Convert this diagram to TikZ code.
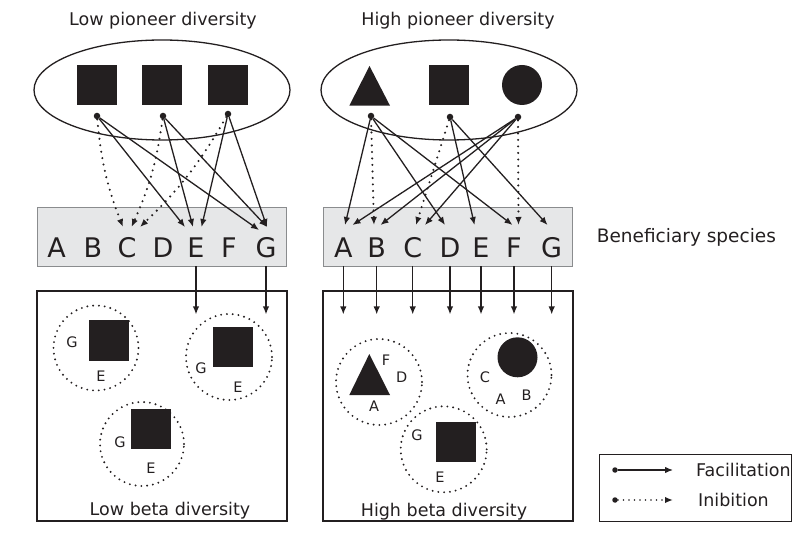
\documentclass[tikz,border=0pt]{standalone}
\usepackage{fontspec}
\setmainfont{DejaVu Sans}
\usetikzlibrary{arrows.meta,shapes.geometric}
\definecolor{ink}{HTML}{231F20}
\definecolor{panel}{HTML}{E6E7E8}
\definecolor{panelline}{HTML}{8A8C8E}
\begin{document}
\begin{tikzpicture}[x=1pt,y=-1pt,
  every node/.style={inner sep=0pt, text=ink},
  tip/.style={-{Latex[length=8pt,width=6.5pt]}},
  fac/.style={draw=ink, line width=1.3pt, tip},
  inh/.style={draw=ink, line width=2.3pt, dash pattern=on 0pt off 6.5pt, line cap=round, tip},
  src/.style={circle, fill=ink, minimum size=6.5pt},
  block/.style={fill=ink, minimum size=40pt},
  heading/.style={font=\fontsize{17.5}{18}\selectfont},
  letter/.style={font=\fontsize{27}{27}\selectfont, anchor=base},
  tag/.style={font=\fontsize{14.5}{15}\selectfont},
  pool/.style={draw=ink, ellipse, line width=1.3pt, minimum width=256pt, minimum height=100pt},
  strip/.style={draw=panelline, fill=panel, line width=0.8pt, minimum width=249pt, minimum height=59pt},
  patch/.style={draw=ink, line width=2.1pt, dash pattern=on 0pt off 5.8pt, line cap=round, circle},
  frame/.style={draw=ink, line width=1.4pt, minimum width=250pt, minimum height=230pt}
]
\useasboundingbox (0,0) rectangle (800,534);

% headings
\node[heading, anchor=base] (tl) at (163,26) {Low pioneer diversity};
\node[heading, anchor=base] (tr) at (458,26) {High pioneer diversity};

% pioneer pools
\node[pool] (pl) at (162,90) {};
\node[pool] (pr) at (449,90) {};
\node[block] (q1) at (97,85) {};
\node[block] (q2) at (162,85) {};
\node[block] (q3) at (228,85) {};
\fill[ink] (349.3,105.7) -- (369.5,66) -- (390,105.7) -- cycle;
\node[block] (q5) at (449,85) {};
\node[circle, fill=ink, minimum size=40pt] (q6) at (522,85) {};

% beneficiary strips
\node[strip] (sl) at (161.5,236.5) {};
\node[strip] (sr) at (448,236.5) {};
\foreach \n/\x in {A/56.7,B/93,C/127,D/163,E/196,F/229,G/266}
  \node[letter] (L\n) at (\x,258) {\n};
\foreach \n/\x in {A/343.3,B/376.7,C/412.7,D/450,E/481,F/514,G/551.7}
  \node[letter] (R\n) at (\x,258) {\n};
\node[font=\fontsize{18.5}{19}\selectfont, anchor=base west] (bs) at (596.7,243) {Beneficiary species};

% arrow end points above the letters
\coordinate (tLC1) at (123,227);
\coordinate (tLC2) at (131.5,227);
\coordinate (tLC3) at (140,227);
\coordinate (tLE1) at (185,227);
\coordinate (tLE2) at (193,227);
\coordinate (tLE3) at (201.5,227);
\coordinate (tLG1) at (259,230);
\coordinate (tLG2) at (267,227);
\coordinate (tRA1) at (345,225);
\coordinate (tRA2) at (352.5,225);
\coordinate (tRB1) at (374,225);
\coordinate (tRB2) at (380.5,225);
\coordinate (tRC1) at (416,225);
\coordinate (tRC2) at (425,225);
\coordinate (tRD) at (445,225);
\coordinate (tRE) at (474.5,225);
\coordinate (tRF1) at (512.5,225);
\coordinate (tRF2) at (518.5,225);
\coordinate (tRG) at (547.5,225);

% source points
\node[src] (s1) at (97,116) {};
\node[src] (s2) at (163,116) {};
\node[src] (s3) at (228,114) {};
\node[src] (r1) at (371,116) {};
\node[src] (r2) at (450,117) {};
\node[src] (r3) at (518,117) {};

% low diversity interactions
\draw[inh] (s1) to[bend right=8] (tLC1);
\draw[inh] (s2) to[bend left=8] (tLC2);
\draw[inh] (s3) to[bend left=8] (tLC3);
\draw[fac] (s1) -- (tLE1);
\draw[fac] (s1) -- (tLG1);
\draw[fac] (s2) -- (tLE2);
\draw[fac] (s2) -- (tLG2);
\draw[fac] (s3) -- (tLE3);
\draw[fac] (s3) -- (tLG2);

% high diversity interactions
\draw[fac] (r1) -- (tRA1);
\draw[inh] (r1) -- (tRB1);
\draw[fac] (r1) -- (tRD);
\draw[fac] (r1) -- (tRF1);
\draw[inh] (r2) -- (tRC1);
\draw[fac] (r2) -- (tRE);
\draw[fac] (r2) -- (tRG);
\draw[fac] (r3) -- (tRA2);
\draw[fac] (r3) -- (tRB2);
\draw[fac] (r3) -- (tRC2);
\draw[inh] (r3) -- (tRF2);

% communities
\node[frame] (fl) at (162,406) {};
\node[frame] (fr) at (448,406) {};
\foreach \n in {E,G}
  \draw[fac] (L\n |- sl.south) -- ++(0,48);
\foreach \n in {A,B,C,D,E,F,G}
  \draw[fac] (R\n |- sr.south) -- ++(0,48);

% low beta diversity patches
\node[patch, minimum size=85pt] (c1) at (96,348) {};
\node[block] (b1) at (109,340.5) {};
\node[tag] at (72,342) {G};
\node[tag] at (101,376) {E};
\node[patch, minimum size=86pt] (c2) at (229,357) {};
\node[block] (b2) at (232.5,346.7) {};
\node[tag] at (201,368) {G};
\node[tag] at (238,387) {E};
\node[patch, minimum size=84pt] (c3) at (142,444) {};
\node[block] (b3) at (150.7,429.3) {};
\node[tag] at (120,442) {G};
\node[tag] at (151,468) {E};
\node[heading, anchor=base] (ll) at (170,515) {Low beta diversity};

% high beta diversity patches
\node[patch, minimum size=86pt] (c4) at (379,382) {};
\fill[ink] (349.3,395) -- (369.3,354) -- (390,395) -- cycle;
\node[tag] at (386,360) {F};
\node[tag] at (401.7,377) {D};
\node[tag] at (374,406) {A};
\node[patch, minimum size=84pt] (c5) at (509.5,375) {};
\node[circle, fill=ink, minimum size=40pt] (b5) at (517.5,357.3) {};
\node[tag] at (485,377) {C};
\node[tag] at (500.7,399) {A};
\node[tag] at (526.7,395) {B};
\node[patch, minimum size=86pt] (c6) at (443.7,449.3) {};
\node[block] (b6) at (455.7,442) {};
\node[tag] at (417,435) {G};
\node[tag] at (440,477) {E};
\node[heading, anchor=base] (lr) at (444,516) {High beta diversity};

% legend
\node[draw=ink, line width=0.9pt, minimum width=192pt, minimum height=67pt] (key) at (695.5,487.5) {};
\node[src, minimum size=5.5pt] (k1) at (615,470) {};
\coordinate (k1e) at (673,470);
\draw[fac] (k1) -- (k1e);
\node[heading, anchor=base west] (kt1) at (696,476.5) {Facilitation};
\node[src, minimum size=5.5pt] (k2) at (615,500) {};
\coordinate (k2e) at (673,500);
\draw[inh, line width=1.9pt, dash pattern=on 0pt off 5.5pt] (k2) -- (k2e);
\node[heading, anchor=base west] (kt2) at (698,506.5) {Inibition};
\end{tikzpicture}
\end{document}
